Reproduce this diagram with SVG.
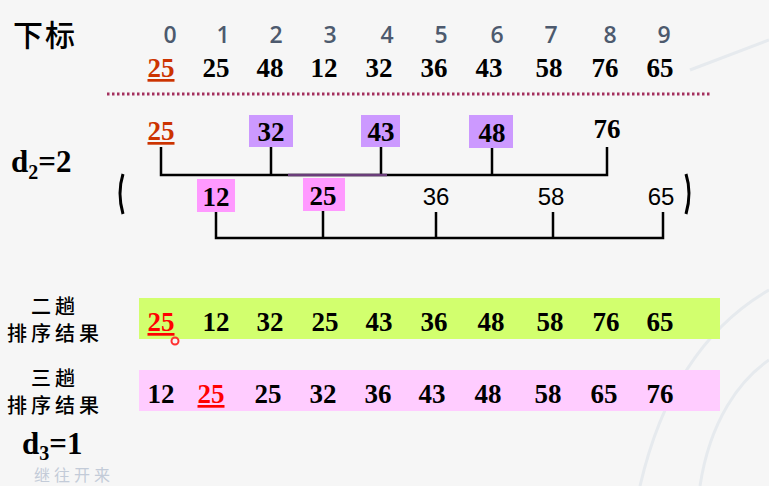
<svg xmlns="http://www.w3.org/2000/svg" width="769" height="486" viewBox="0 0 769 486">
<style>
.num{font-family:"Liberation Serif","Times New Roman",serif;font-weight:bold;font-size:27px;fill:#000;text-anchor:middle}
.idx{font-family:"Open Sans","Liberation Sans",sans-serif;font-size:23px;font-weight:600;fill:#4d5a6e;text-anchor:middle}
.sans{font-family:"Liberation Sans",Arial,sans-serif;font-size:24px;fill:#000;text-anchor:middle}
.cjk{font-family:"Noto Sans CJK SC",sans-serif;fill:#000;text-anchor:middle;font-weight:500}
.lbl{font-size:20px;letter-spacing:4px}
.hl{fill:#cc3300;text-decoration:underline}
.red{fill:#ff0000;text-decoration:underline}
.ln{stroke:#000;stroke-width:2.5;fill:none}
.pur{fill:#cc99ff}
.pink{fill:#ff99ff}
.big{font-family:"Liberation Serif","Times New Roman",serif;font-weight:bold;font-size:31px;fill:#000}
</style>
<rect width="769" height="486" fill="#f6f6f6"/>
<path d="M640 486 C 660 400 700 330 769 290" stroke="#e6eaee" stroke-width="3" fill="none"/>
<path d="M700 486 C 710 420 740 380 769 360" stroke="#e6eaee" stroke-width="3" fill="none"/>
<path d="M690 70 L769 40" stroke="#e6eaee" stroke-width="3" fill="none"/>

<g id="header">
<text class="cjk" x="45" y="46" font-size="30" letter-spacing="2">下标</text>
<text class="idx" x="170" y="43">0</text>
<text class="idx" x="223" y="43">1</text>
<text class="idx" x="276" y="43">2</text>
<text class="idx" x="330" y="43">3</text>
<text class="idx" x="387" y="43">4</text>
<text class="idx" x="441" y="43">5</text>
<text class="idx" x="497" y="43">6</text>
<text class="idx" x="551" y="43">7</text>
<text class="idx" x="610" y="43">8</text>
<text class="idx" x="664" y="43">9</text>
</g>
<g id="row0">
<text class="num hl" x="161" y="77">25</text>
<text class="num" x="216" y="77">25</text>
<text class="num" x="270" y="77">48</text>
<text class="num" x="324" y="77">12</text>
<text class="num" x="379" y="77">32</text>
<text class="num" x="434" y="77">36</text>
<text class="num" x="489" y="77">43</text>
<text class="num" x="549" y="77">58</text>
<text class="num" x="605" y="77">76</text>
<text class="num" x="660" y="77">65</text>
</g>
<line x1="107" y1="94" x2="711" y2="94" stroke="#a3305e" stroke-width="3" stroke-dasharray="2.5 2.5"/>

<g id="d2label"><text class="big" x="11" y="172">d<tspan font-size="20" dy="7">2</tspan><tspan dy="-7">=2</tspan></text></g>

<g id="group1">
<rect class="pur" x="249" y="115" width="44" height="32"/>
<rect class="pur" x="361" y="115" width="39" height="32"/>
<rect class="pur" x="469" y="115" width="44" height="33"/>
<text class="num hl" x="161" y="140">25</text>
<text class="num" x="271" y="141">32</text>
<text class="num" x="381" y="141">43</text>
<text class="num" x="492" y="142">48</text>
<text class="num" x="607" y="138">76</text>
</g>
<g id="group2">
<rect class="pink" x="197" y="179" width="38" height="33"/>
<rect class="pink" x="303" y="178" width="42" height="33"/>
<text class="num" x="216" y="206">12</text>
<text class="num" x="323" y="205">25</text>
<text class="sans" x="436" y="205">36</text>
<text class="sans" x="551" y="205">58</text>
<text class="sans" x="661" y="205">65</text>
<path d="M123 174 Q117 193 123 214" stroke="#000" stroke-width="3" fill="none"/>
<path d="M686 174 Q692 193 686 214" stroke="#000" stroke-width="3" fill="none"/>
</g>
<g id="connectors">
<path class="ln" d="M161 147 V175 H607 V147 M271 147 V175 M381 147 V175 M492 148 V175"/>
<line x1="288" y1="175" x2="387" y2="175" stroke="#6a3d7a" stroke-width="2.5"/>
<path class="ln" d="M216 212 V238 H663 V212 M323 211 V238 M436 212 V238 M553 212 V238"/>
</g>

<g id="pass2">
<rect x="139" y="298" width="581" height="41" fill="#d2ff6e"/>
<text class="cjk lbl" x="55" y="314">二趟</text>
<text class="cjk lbl" x="55" y="341">排序结果</text>
<text class="num red" x="161" y="331">25</text>
<text class="num" x="216" y="331">12</text>
<text class="num" x="270" y="331">32</text>
<text class="num" x="325" y="331">25</text>
<text class="num" x="379" y="331">43</text>
<text class="num" x="434" y="331">36</text>
<text class="num" x="491" y="331">48</text>
<text class="num" x="550" y="331">58</text>
<text class="num" x="606" y="331">76</text>
<text class="num" x="660" y="331">65</text>
<circle cx="175" cy="341" r="3.5" fill="none" stroke="#ff3030" stroke-width="2"/>
</g>
<g id="pass3">
<rect x="139" y="370" width="581" height="41" fill="#ffccff"/>
<text class="cjk lbl" x="55" y="386">三趟</text>
<text class="cjk lbl" x="55" y="413">排序结果</text>
<text class="num" x="161" y="403">12</text>
<text class="num red" x="211" y="403">25</text>
<text class="num" x="268" y="403">25</text>
<text class="num" x="323" y="403">32</text>
<text class="num" x="378" y="403">36</text>
<text class="num" x="432" y="403">43</text>
<text class="num" x="488" y="403">48</text>
<text class="num" x="548" y="403">58</text>
<text class="num" x="604" y="403">65</text>
<text class="num" x="660" y="403">76</text>
</g>
<g id="d3label"><text class="big" x="22" y="454">d<tspan font-size="20" dy="6">3</tspan><tspan dy="-6">=1</tspan></text></g>
<text x="74" y="481" font-family="Noto Sans CJK SC, sans-serif" font-size="16" fill="#c3cbd8" text-anchor="middle" letter-spacing="4">继往开来</text>
</svg>
